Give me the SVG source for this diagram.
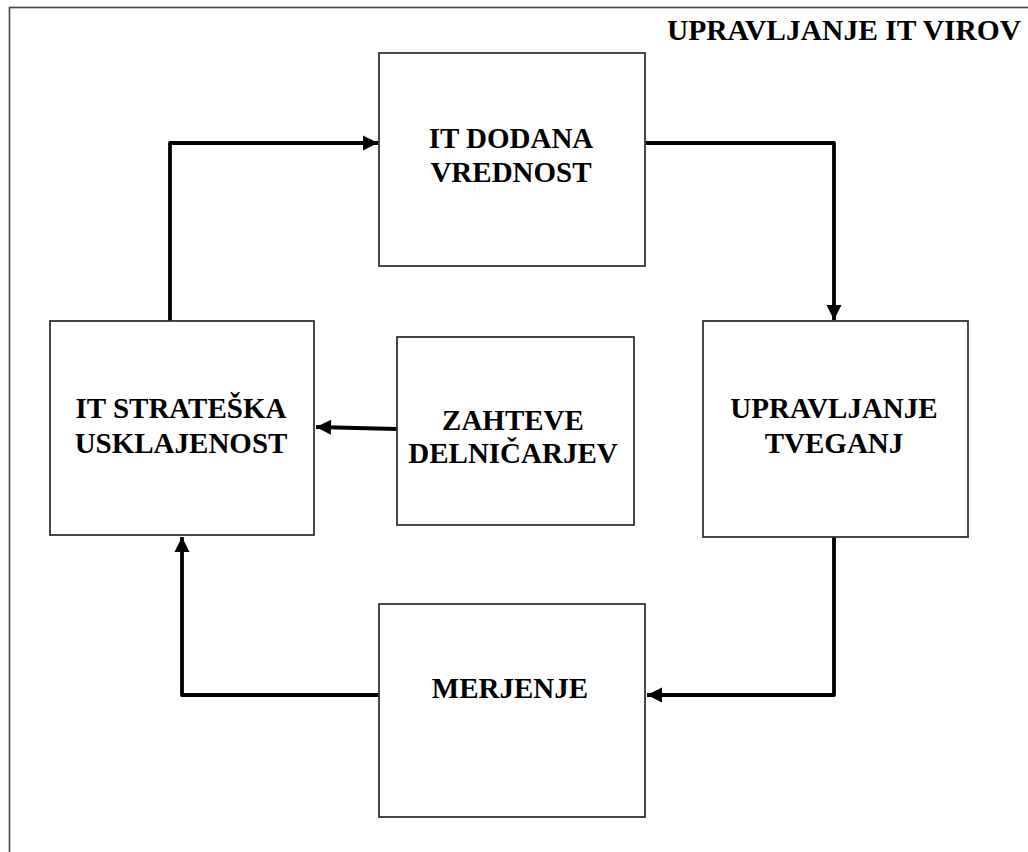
<svg xmlns="http://www.w3.org/2000/svg" width="1028" height="852" viewBox="0 0 1028 852">
  <style>
    .frame { fill: none; stroke: #444; stroke-width: 1.6; }
    .box { fill: #fff; stroke: #333; stroke-width: 1.8; }
    .lbl { font-family: "Liberation Serif", "Times New Roman", serif; font-weight: bold; font-size: 29px; fill: #000; text-anchor: middle; }
    .title { font-family: "Liberation Serif", "Times New Roman", serif; font-weight: bold; font-size: 29.5px; fill: #000; text-anchor: end; }
    .conn { fill: none; stroke: #000; stroke-width: 3.8; stroke-linejoin: round; marker-end: url(#arrow); }
  </style>
  <defs>
    <marker id="arrow" markerUnits="userSpaceOnUse" markerWidth="18" markerHeight="18" viewBox="0 0 18 18" refX="16" refY="9" orient="auto">
      <path d="M1,1.5 L16,9 L1,16.5 Z" fill="#000"/>
    </marker>
  </defs>

  <rect width="1028" height="852" fill="#fff"/>
  <!-- outer frame -->
  <rect class="frame" x="9.5" y="7.5" width="1030" height="860"/>
  <text class="title" x="1021" y="40">UPRAVLJANJE IT VIROV</text>

  <!-- cycle connectors -->
  <g id="connectors">
    <path class="conn" d="M170,321 V143 H378"/>
    <path class="conn" d="M646,143 H834 V320"/>
    <path class="conn" d="M834,537 V695 H647"/>
    <path class="conn" d="M379,695 H182 V537"/>
    <path class="conn" d="M397,429 L316,427"/>
  </g>

  <g id="node-dodana">
    <rect class="box" x="379" y="53" width="266" height="213"/>
    <text class="lbl" x="511" y="148">IT DODANA</text>
    <text class="lbl" x="511" y="182">VREDNOST</text>
  </g>

  <g id="node-strateska">
    <rect class="box" x="50" y="321" width="264" height="214"/>
    <text class="lbl" x="181" y="418">IT STRATEŠKA</text>
    <text class="lbl" x="181" y="453">USKLAJENOST</text>
  </g>

  <g id="node-zahteve">
    <rect class="box" x="397" y="337" width="237" height="188"/>
    <text class="lbl" x="513" y="430">ZAHTEVE</text>
    <text class="lbl" x="513" y="463">DELNIČARJEV</text>
  </g>

  <g id="node-tveganj">
    <rect class="box" x="703" y="321" width="265" height="216"/>
    <text class="lbl" x="834" y="418">UPRAVLJANJE</text>
    <text class="lbl" x="834" y="453">TVEGANJ</text>
  </g>

  <g id="node-merjenje">
    <rect class="box" x="379" y="604" width="266" height="213"/>
    <text class="lbl" x="510" y="698">MERJENJE</text>
  </g>
</svg>
